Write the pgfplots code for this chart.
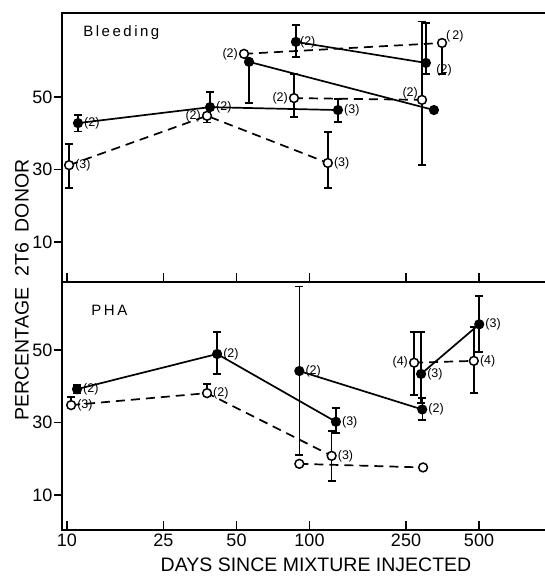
\documentclass[border=0pt]{standalone}
\usepackage{fontspec}
\setmainfont{Liberation Sans}
\usepackage{pgfplots}
\pgfplotsset{compat=1.18}

\pgfplotsset{
  fullser/.style={black, solid, line width=1.7pt, mark=*, mark size=4.2pt,
    mark options={solid, fill=black},
    error bars/y dir=both, error bars/y explicit,
    error bars/error bar style={solid, line width=1.5pt},
    error bars/error mark options={rotate=90, solid, black, line width=1.5pt, mark size=4pt}},
  openser/.style={black, dash pattern=on 9pt off 6pt, line width=1.7pt, mark=*, mark size=4.4pt,
    mark options={solid, fill=white, draw=black, line width=1.5pt},
    error bars/y dir=both, error bars/y explicit,
    error bars/error bar style={solid, line width=1.5pt},
    error bars/error mark options={rotate=90, solid, black, line width=1.5pt, mark size=4pt}},
}
\tikzset{lab/.style={font=\fontsize{12.5}{12.5}\selectfont, inner sep=1pt}}

\begin{document}
\begin{tikzpicture}[x=1pt,y=1pt]
\useasboundingbox (0,0) rectangle (545,578);

% Bleeding
\begin{axis}[xmode=log,
  scale only axis, width=486pt, height=269pt,
  at={(62pt,296pt)}, anchor=south west,
  xmin=9.537, xmax=962.7, ymin=-1.03, ymax=73.17,
  xtick={10,25,50,100,250,500}, xticklabels={},
  minor x tick num=0, minor y tick num=0,
  minor tick length=9pt,
  xmajorgrids, xminorgrids,
  major x grid style={black, solid, line width=1.6pt, dash pattern=on 9pt off 600pt},
  minor x grid style={black, solid, line width=1.6pt, dash pattern=on 9pt off 600pt},
  ytick={10,30,50},
  xtick pos=left, ytick pos=left,
  tick align=inside, major tick length=9pt,
  ytick style={xshift=-8pt},
  yticklabel style={xshift=-6pt},
  axis line style={line width=1.7pt},
  tick style={black, line width=1.6pt},
  /pgf/number format/assume math mode=true,
  tick label style={font=\fontsize{18}{18}\selectfont}]
\addplot+[fullser] coordinates {
  (11.1,42.8) += (0,2.3) -= (0,2.3)
  (38.9,47.2) += (0,4.2) -= (0,0)
  (131,46.4)  += (0,3.0) -= (0,3.3)};
\addplot+[openser] coordinates {
  (10.2,31.2) += (0,5.8) -= (0,6.3)
  (37.8,44.8) += (0,0) -= (0,1.8)
  (119,31.8)  += (0,8.5) -= (0,6.9)};
\addplot+[fullser] coordinates {
  (56.3,59.7) += (0,0) -= (0,11.3)
  (326,46.4)  += (0,0) -= (0,0)};
\addplot+[openser] coordinates {
  (53.7,61.9) += (0,0) -= (0,0)
  (352,64.9)  += (0,0) -= (0,8.6)};
\addplot+[openser] coordinates {
  (86.3,49.7) += (0,6.6) -= (0,5.2)
  (291,49.2)  += (0,21.6) -= (0,17.9)};
\addplot+[fullser] coordinates {
  (87.9,65.2) += (0,4.7) -= (0,4.2)
  (302,59.4)  += (0,11) -= (0,3)};

\node[anchor=west, font=\fontsize{15}{15}\selectfont] at (axis cs:11.3,67.7) {B\,l\,e\,e\,d\,i\,n\,g};
\node[lab, anchor=west, xshift=5pt] at (axis cs:11.1,42.8) {(2)};
\node[lab, anchor=west, xshift=5pt] at (axis cs:10.2,31.2) {(3)};
\node[lab, anchor=west, xshift=5pt] at (axis cs:38.9,47.2) {(2)};
\node[lab, anchor=east, xshift=-5pt] at (axis cs:37.8,44.8) {(2)};
\node[lab, anchor=east, xshift=-5pt] at (axis cs:53.7,61.9) {(2)};
\node[lab, anchor=west, xshift=3pt] at (axis cs:87.9,65.2) {(2)};
\node[lab, anchor=east, xshift=-5pt] at (axis cs:86.3,49.7) {(2)};
\node[lab, anchor=west, xshift=5pt] at (axis cs:131,46.4) {(3)};
\node[lab, anchor=west, xshift=5pt] at (axis cs:119,31.8) {(3)};
\node[lab, anchor=south east, xshift=-3pt] at (axis cs:291,49.2) {(2)};
\node[lab, anchor=west] at (axis cs:330,57.4) {(2)};
\node[lab, anchor=south west, xshift=3pt] at (axis cs:352,64.9) {(\,2)};
\end{axis}

% PHA
\begin{axis}[xmode=log,
  scale only axis, width=486pt, height=248pt,
  at={(62pt,48pt)}, anchor=south west,
  xmin=9.537, xmax=962.7, ymin=0.345, ymax=68.76,
  xtick={10,25,50,100,250,500}, xticklabels={10,25,50,100,250,500},
  minor x tick num=0, minor y tick num=0,
  minor tick length=9pt,
  xmajorgrids, xminorgrids,
  major x grid style={black, solid, line width=1.6pt, dash pattern=on 9pt off 600pt},
  minor x grid style={black, solid, line width=1.6pt, dash pattern=on 9pt off 600pt},
  ytick={10,30,50},
  xtick pos=left, ytick pos=left,
  tick align=inside, major tick length=9pt,
  ytick style={xshift=-8pt},
  yticklabel style={xshift=-6pt},
  axis line style={line width=1.7pt},
  tick style={black, line width=1.6pt},
  /pgf/number format/assume math mode=true,
  tick label style={font=\fontsize{18}{18}\selectfont}]
\addplot+[fullser] coordinates {
  (11.0,39.2)  += (0,1.2) -= (0,1.2)
  (41.6,48.9)  += (0,6.1) -= (0,5.5)
  (128.5,30.2) += (0,3.8) -= (0,3.1)};
\addplot+[openser] coordinates {
  (10.4,34.8)  += (0,2.3) -= (0,0)
  (37.8,38.1)  += (0,2.5) -= (0,0)
  (123.4,20.8) += (0,6.8) -= (0,6.9)};
\addplot+[openser] coordinates {
  (90.8,18.6) += (0,0) -= (0,0)
  (294,17.6)  += (0,0) -= (0,0)};
\addplot+[fullser] coordinates {
  (90.8,44.2)  += (0,23.3) -= (0,23.2)
  (291.7,33.6) += (0,3.1) -= (0,2.9)};
\addplot+[openser] coordinates {
  (270,46.5) += (0,8.5) -= (0,8.9)
  (476,47.0) += (0,9.4) -= (0,8.8)};
\addplot+[fullser] coordinates {
  (288.5,43.4) += (0,11.6) -= (0,8)
  (501,57.1)   += (0,7.8) -= (0,7.6)};

\node[anchor=west, font=\fontsize{15}{15}\selectfont] at (axis cs:12.2,61.0) {P\,H\,A};
\node[lab, anchor=west, xshift=5pt] at (axis cs:11.0,39.2) {(2)};
\node[lab, anchor=west, xshift=5pt] at (axis cs:10.4,34.8) {(3)};
\node[lab, anchor=west, xshift=5pt] at (axis cs:41.6,48.9) {(2)};
\node[lab, anchor=west, xshift=5pt] at (axis cs:37.8,38.1) {(2)};
\node[lab, anchor=west, xshift=5pt] at (axis cs:128.5,30.2) {(3)};
\node[lab, anchor=west, xshift=5pt] at (axis cs:123.4,20.8) {(3)};
\node[lab, anchor=west, xshift=5pt] at (axis cs:90.8,44.2) {(2)};
\node[lab, anchor=west, xshift=5pt] at (axis cs:291.7,33.6) {(2)};
\node[lab, anchor=west, xshift=5pt] at (axis cs:288.5,43.4) {(3)};
\node[lab, anchor=west, xshift=5pt] at (axis cs:501,57.1) {(3)};
\node[lab, anchor=east, xshift=-5pt] at (axis cs:270,46.5) {(4)};
\node[lab, anchor=west, xshift=5pt] at (axis cs:476,47.0) {(4)};
\end{axis}

\node[font=\fontsize{19.5}{19.5}\selectfont] at (316,13) {DAYS\ SINCE\ MIXTURE\ INJECTED};
\node[rotate=90, font=\fontsize{19.5}{19.5}\selectfont] at (22,288) {PERCENTAGE\ \ 2T6\ \ DONOR};
\end{tikzpicture}
\end{document}
